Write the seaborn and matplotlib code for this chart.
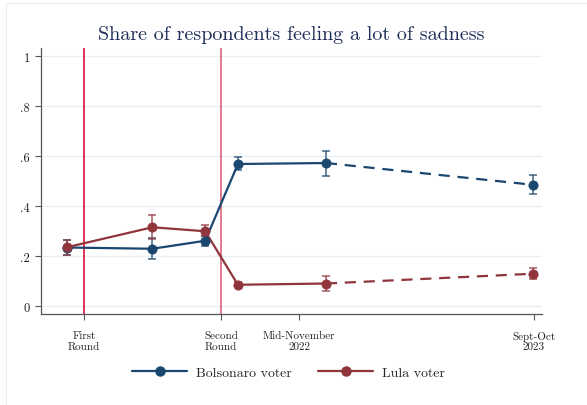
import numpy as np
import pandas as pd
import matplotlib
matplotlib.use("Agg")
import matplotlib.pyplot as plt
import seaborn as sns
from matplotlib.lines import Line2D

# Survey waves (horizontal position on a compressed timeline)
wave_pos = [-3.5, 14.0, 24.8, 31.5, 49.5, 91.8]

bolsonaro = [0.234, 0.229, 0.261, 0.568, 0.572, 0.485]
bolsonaro_lo = [0.205, 0.187, 0.242, 0.544, 0.521, 0.447]
bolsonaro_hi = [0.264, 0.271, 0.281, 0.595, 0.621, 0.523]

lula = [0.235, 0.315, 0.299, 0.085, 0.090, 0.129]
lula_lo = [0.206, 0.268, 0.279, 0.075, 0.060, 0.107]
lula_hi = [0.265, 0.365, 0.324, 0.096, 0.121, 0.152]

series_names = ["Bolsonaro voter", "Lula voter"]

xtick_pos = [0, 28, 44, 92]
xtick_labels = ["First\nRound", "Second\nRound", "Mid-November\n2022", "Sept-Oct\n2023"]
ytick_pos = [0, 0.2, 0.4, 0.6, 0.8, 1.0]
ytick_labels = ["0", ".2", ".4", ".6", ".8", "1"]

election_rounds = [0, 28]

sns.set_style("white")
plt.rcParams["font.family"] = ["cmr10", "DejaVu Serif"]
plt.rcParams["axes.formatter.use_mathtext"] = True

BLUE = "#1a476f"
RED = "#90353b"
colors = {series_names[0]: BLUE, series_names[1]: RED}

rows = []
for name, vals, lo, hi in [(series_names[0], bolsonaro, bolsonaro_lo, bolsonaro_hi),
                           (series_names[1], lula, lula_lo, lula_hi)]:
    for i, (x, v, l, h) in enumerate(zip(wave_pos, vals, lo, hi)):
        rows.append({"wave": i, "x": x, "share": v, "lo": l, "hi": h, "group": name})
df = pd.DataFrame(rows)

fig = plt.figure(figsize=(5.87, 4.06), dpi=100)
ax = fig.add_axes([0.0698, 0.2241, 0.8535, 0.6552])

# faint outer frame (left and top edges visible)
fig.patches.append(plt.Rectangle((0.010, -0.05), 1.05, 1.04,
                                 transform=fig.transFigure, fill=False,
                                 edgecolor="#eeeeee", linewidth=0.8))

# horizontal grid
for y in ytick_pos:
    ax.axhline(y, color="#e6eff1", linewidth=0.9, zorder=0)

# election round markers
ax.axvline(election_rounds[0], color="#d6002b", linewidth=1.1, zorder=1)
ax.axvline(election_rounds[1], color="#d8647c", linewidth=1.2, zorder=1)

solid = df[df["wave"] <= 4]
dashed = df[df["wave"] >= 4]

sns.lineplot(data=solid, x="x", y="share", hue="group", palette=colors,
             linewidth=1.6, legend=False, ax=ax, zorder=3, sort=True)
sns.lineplot(data=dashed, x="x", y="share", hue="group", palette=colors,
             linewidth=1.6, legend=False, ax=ax, zorder=3, sort=True,
             dashes=False)
for line in ax.lines[-2:]:
    line.set_dashes([5, 3.5])

for name in series_names:
    sub = df[df["group"] == name]
    ax.errorbar(sub["x"], sub["share"],
                yerr=[sub["share"] - sub["lo"], sub["hi"] - sub["share"]],
                fmt="none", ecolor=colors[name], alpha=0.75, elinewidth=1.2,
                capsize=3, capthick=1.2, zorder=4)
    sns.scatterplot(data=sub, x="x", y="share", color=colors[name], s=45,
                    edgecolor=colors[name], linewidth=0.5, ax=ax, zorder=5,
                    legend=False)

ax.set_xlim(-8.8, 93.7)
ax.set_ylim(-0.032, 1.032)
ax.set_xticks(xtick_pos)
ax.set_xticklabels(xtick_labels, fontsize=8, linespacing=1.15)
ax.set_yticks(ytick_pos)
ax.set_yticklabels(ytick_labels, fontsize=9)
ax.set_xlabel("")
ax.set_ylabel("")
ax.tick_params(axis="both", direction="out", length=4, width=0.8,
               color="#555555", colors="#222222", left=True, bottom=True)
ax.tick_params(axis="x", pad=8)
ax.tick_params(axis="y", pad=4)
for side in ["top", "right"]:
    ax.spines[side].set_visible(False)
for side in ["left", "bottom"]:
    ax.spines[side].set_color("#555555")
    ax.spines[side].set_linewidth(0.9)

fig.text(0.497, 0.913, "Share of respondents feeling a lot of sadness",
         ha="center", va="center", fontsize=14.5, color="#1f2f5a")

handles = [Line2D([0], [0], color=colors[n], linewidth=1.6, marker="o",
                  markersize=6.5, markerfacecolor=colors[n]) for n in series_names]
fig.legend(handles, series_names, loc="center", bbox_to_anchor=(0.4915, 0.08),
           ncol=2, frameon=False, fontsize=10, handlelength=3.9,
           columnspacing=1.95, handletextpad=0.65)

fig.savefig("out.png", dpi=100)
